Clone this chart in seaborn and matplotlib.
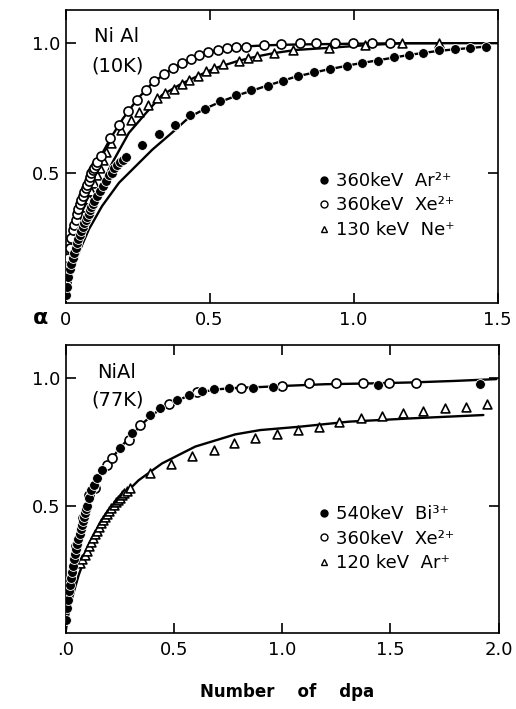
import matplotlib
matplotlib.use("Agg")
import matplotlib.pyplot as plt
from matplotlib.lines import Line2D
import seaborn as sns
import numpy as np

sns.set_style("ticks")
plt.rcParams['font.family'] = ['DejaVu Sans']
plt.rcParams['text.color'] = 'black'
plt.rcParams['axes.labelcolor'] = 'black'

# ---------------- Top panel: NiAl (10K) ----------------
top_ar_x = [0.003, 0.006, 0.01, 0.015, 0.02, 0.025, 0.03, 0.035, 0.04, 0.045, 0.05, 0.055,
            0.06, 0.065, 0.07, 0.075, 0.08, 0.085, 0.09, 0.095, 0.10, 0.11, 0.12,
            0.13, 0.14, 0.15, 0.16, 0.17, 0.18, 0.19, 0.20, 0.21,
            0.267, 0.323, 0.380, 0.432, 0.486, 0.537, 0.593, 0.645, 0.702, 0.755, 0.809,
            0.863, 0.920, 0.976, 1.030, 1.084, 1.139, 1.191, 1.243, 1.298, 1.354, 1.406, 1.461]
top_ar_y = [0.03, 0.06, 0.10, 0.13, 0.15, 0.17, 0.19, 0.21, 0.23, 0.245, 0.26, 0.275,
            0.29, 0.305, 0.32, 0.33, 0.34, 0.355, 0.37, 0.38, 0.39, 0.41, 0.43,
            0.45, 0.47, 0.49, 0.50, 0.52, 0.53, 0.54, 0.55, 0.56,
            0.609, 0.650, 0.686, 0.722, 0.747, 0.776, 0.799, 0.818, 0.836, 0.856, 0.874,
            0.887, 0.900, 0.913, 0.923, 0.933, 0.945, 0.955, 0.964, 0.972, 0.977, 0.981, 0.987]

top_xe_x = [0.003, 0.007, 0.01, 0.015, 0.02, 0.025, 0.03, 0.035, 0.04, 0.045, 0.05, 0.055,
            0.06, 0.065, 0.07, 0.075, 0.08, 0.085, 0.09, 0.095, 0.10, 0.105, 0.11,
            0.122, 0.154, 0.186, 0.217, 0.247, 0.279, 0.308, 0.343, 0.372, 0.403, 0.436,
            0.465, 0.496, 0.529, 0.561, 0.593, 0.625, 0.69, 0.749, 0.813, 0.871, 0.935,
            0.999, 1.063, 1.127]
top_xe_y = [0.08, 0.13, 0.17, 0.21, 0.25, 0.28, 0.30, 0.32, 0.34, 0.36, 0.38, 0.395,
            0.41, 0.425, 0.44, 0.455, 0.47, 0.485, 0.50, 0.51, 0.52, 0.53, 0.54,
            0.564, 0.635, 0.686, 0.737, 0.782, 0.818, 0.853, 0.881, 0.904, 0.923, 0.940,
            0.954, 0.965, 0.974, 0.981, 0.985, 0.987, 0.993, 0.995, 1.0, 1.0, 1.0,
            1.0, 1.0, 1.0]

top_ne_x = [0.01, 0.02, 0.03, 0.04, 0.05, 0.06, 0.07, 0.08, 0.09, 0.10, 0.11, 0.12, 0.13,
            0.14, 0.159, 0.191, 0.226, 0.255, 0.288, 0.317, 0.346, 0.375, 0.403, 0.430,
            0.459, 0.488, 0.517, 0.546, 0.601, 0.635, 0.665, 0.725, 0.790, 0.914, 1.040,
            1.168, 1.296]
top_ne_y = [0.14, 0.19, 0.23, 0.27, 0.31, 0.34, 0.37, 0.40, 0.43, 0.46, 0.49, 0.52, 0.55,
            0.58, 0.615, 0.667, 0.705, 0.733, 0.763, 0.788, 0.808, 0.823, 0.842, 0.859,
            0.874, 0.891, 0.904, 0.919, 0.932, 0.942, 0.949, 0.962, 0.974, 0.981, 0.993,
            1.0, 1.002]

# fitted curves
top_fit_xe_x = [0.0, 0.005, 0.02, 0.05, 0.08, 0.12, 0.16, 0.20, 0.25, 0.30, 0.35, 0.40,
                0.45, 0.50, 0.55, 0.60, 0.70, 0.80, 1.00, 1.20, 1.50]
top_fit_xe_y = [0.0, 0.10, 0.22, 0.37, 0.47, 0.56, 0.64, 0.71, 0.785, 0.845, 0.886, 0.92,
                0.947, 0.966, 0.979, 0.986, 0.992, 0.995, 0.998, 1.0, 1.0]
top_fit_ne_x = [0.0, 0.011, 0.03, 0.06, 0.104, 0.163, 0.22, 0.279, 0.335, 0.40, 0.46, 0.52,
                0.60, 0.665, 0.725, 0.80, 0.90, 1.04, 1.17, 1.30]
top_fit_ne_y = [0.0, 0.077, 0.17, 0.29, 0.41, 0.54, 0.654, 0.73, 0.80, 0.842, 0.874, 0.904,
                0.932, 0.949, 0.962, 0.974, 0.981, 0.992, 1.0, 1.0]
top_fit_ar_x = [0.0, 0.023, 0.046, 0.081, 0.127, 0.186, 0.244, 0.302, 0.37, 0.43, 0.49,
                0.54, 0.60, 0.70, 0.80, 0.90, 1.00, 1.10, 1.20, 1.30, 1.40, 1.46]
top_fit_ar_y = [0.0, 0.115, 0.192, 0.282, 0.372, 0.462, 0.526, 0.59, 0.655, 0.715, 0.75,
                0.775, 0.80, 0.836, 0.871, 0.896, 0.918, 0.937, 0.956, 0.971, 0.981, 0.987]

top_labels = ["360keV  Ar²⁺", "360keV  Xe²⁺", "130 keV  Ne⁺"]
top_xticks = [0, 0.5, 1.0, 1.5]
top_xticklabels = ["0", "0.5", "1.0", "1.5"]

# ---------------- Bottom panel: NiAl (77K) ----------------
bot_bi_x = [0.003, 0.007, 0.01, 0.015, 0.02, 0.025, 0.03, 0.035, 0.04, 0.045, 0.05, 0.055,
            0.06, 0.065, 0.07, 0.075, 0.08, 0.085, 0.09, 0.095, 0.10, 0.11, 0.12,
            0.13, 0.146, 0.17, 0.253, 0.307, 0.392, 0.438, 0.515, 0.569, 0.63, 0.684,
            0.754, 0.864, 0.959, 1.444, 1.914]
bot_bi_y = [0.05, 0.10, 0.13, 0.165, 0.19, 0.215, 0.24, 0.265, 0.29, 0.31, 0.33, 0.35,
            0.37, 0.39, 0.41, 0.425, 0.44, 0.455, 0.47, 0.485, 0.50, 0.53, 0.56,
            0.58, 0.607, 0.64, 0.725, 0.784, 0.856, 0.882, 0.915, 0.934, 0.95, 0.958,
            0.963, 0.964, 0.967, 0.974, 0.978]

bot_xe_x = [0.02, 0.05, 0.08, 0.11, 0.138, 0.192, 0.215, 0.292, 0.346, 0.476, 0.607, 0.81,
            0.998, 1.126, 1.249, 1.375, 1.495, 1.621]
bot_xe_y = [0.20, 0.34, 0.45, 0.54, 0.568, 0.66, 0.686, 0.758, 0.817, 0.898, 0.947, 0.964,
            0.970, 0.98, 0.98, 0.98, 0.983, 0.983]

bot_ar_x = [0.068, 0.078, 0.088, 0.097, 0.107, 0.117, 0.127, 0.136, 0.145, 0.155, 0.165,
            0.175, 0.184, 0.193, 0.202, 0.212, 0.222, 0.232, 0.242, 0.251, 0.261, 0.272,
            0.284, 0.299, 0.392, 0.489, 0.584, 0.684, 0.780, 0.876, 0.976, 1.075, 1.170,
            1.264, 1.367, 1.464, 1.560, 1.652, 1.752, 1.852, 1.945]
bot_ar_y = [0.274, 0.29, 0.307, 0.323, 0.340, 0.356, 0.372, 0.387, 0.402, 0.417, 0.431,
            0.444, 0.457, 0.469, 0.481, 0.492, 0.503, 0.513, 0.522, 0.531, 0.540, 0.549,
            0.558, 0.568, 0.627, 0.664, 0.696, 0.719, 0.745, 0.764, 0.781, 0.797, 0.810,
            0.830, 0.843, 0.852, 0.865, 0.872, 0.882, 0.889, 0.899]

bot_fit_top_x = [0.0, 0.01, 0.03, 0.06, 0.10, 0.15, 0.20, 0.25, 0.30, 0.35, 0.40, 0.45,
                 0.50, 0.60, 0.70, 0.80, 0.90, 1.00, 1.20, 1.40, 1.60, 1.80, 1.99]
bot_fit_top_y = [0.0, 0.13, 0.24, 0.37, 0.50, 0.61, 0.67, 0.725, 0.772, 0.818, 0.856, 0.885,
                 0.908, 0.942, 0.957, 0.963, 0.966, 0.97, 0.977, 0.98, 0.984, 0.99, 0.997]
bot_fit_low_x = [0.0, 0.01, 0.03, 0.061, 0.107, 0.169, 0.245, 0.338, 0.446, 0.599, 0.784,
                 0.90, 1.08, 1.31, 1.60, 1.93]
bot_fit_low_y = [0.0, 0.06, 0.137, 0.228, 0.333, 0.437, 0.522, 0.60, 0.666, 0.732, 0.78,
                 0.797, 0.81, 0.83, 0.843, 0.856]

bot_labels = ["540keV  Bi³⁺", "360keV  Xe²⁺", "120 keV  Ar⁺"]
bot_xticks = [0, 0.5, 1.0, 1.5, 2.0]
bot_xticklabels = [".0", "0.5", "1.0", "1.5", "2.0"]

yticks = [0.5, 1.0]
yticklabels = ["0.5", "1.0"]

# ---------------- Figure ----------------
W, H = 516, 709
fig = plt.figure(figsize=(W / 100, H / 100), dpi=100)

def frac_box(l, t, r, b):
    return [l / W, 1 - b / H, (r - l) / W, (b - t) / H]

ax1 = fig.add_axes(frac_box(65.5, 10, 497.5, 302.5))
ax2 = fig.add_axes(frac_box(65.5, 345, 498.5, 633))

FS = 13
MS = 50
LW = 1.7

def fit(ax, x, y):
    sns.lineplot(x=x, y=y, ax=ax, color="black", lw=LW, sort=False,
                 estimator=None, zorder=2)

def filled(ax, x, y):
    sns.scatterplot(x=x, y=y, ax=ax, marker="o", s=MS, color="black",
                    edgecolor="white", linewidth=0.6, zorder=4)

def opencirc(ax, x, y):
    sns.scatterplot(x=x, y=y, ax=ax, marker="o", s=MS * 0.85, facecolor="white",
                    edgecolor="black", linewidth=1.2, zorder=3)

def tri(ax, x, y):
    sns.scatterplot(x=x, y=y, ax=ax, marker="^", s=MS * 0.8, facecolor="white",
                    edgecolor="black", linewidth=1.2, zorder=3)

# top panel
fit(ax1, top_fit_xe_x, top_fit_xe_y)
fit(ax1, top_fit_ne_x, top_fit_ne_y)
fit(ax1, top_fit_ar_x, top_fit_ar_y)
tri(ax1, top_ne_x, top_ne_y)
opencirc(ax1, top_xe_x, top_xe_y)
filled(ax1, top_ar_x, top_ar_y)

# bottom panel
fit(ax2, bot_fit_top_x, bot_fit_top_y)
fit(ax2, bot_fit_low_x, bot_fit_low_y)
tri(ax2, bot_ar_x, bot_ar_y)
opencirc(ax2, bot_xe_x, bot_xe_y)
filled(ax2, bot_bi_x, bot_bi_y)

for ax, xt, xtl, xmax, ymax in [(ax1, top_xticks, top_xticklabels, 1.5, 1.128),
                                (ax2, bot_xticks, bot_xticklabels, 2.0, 1.131)]:
    ax.set_xlim(0, xmax)
    ax.set_ylim(0, ymax)
    ax.set_xticks(xt)
    ax.set_xticklabels(xtl)
    ax.set_yticks(yticks)
    ax.set_yticklabels(yticklabels)
    ax.tick_params(direction="in", length=7, width=1.2, top=True, right=True,
                   labelsize=FS, colors="black")
    ax.tick_params(axis="x", pad=6)
    ax.tick_params(axis="y", pad=4)
    for sp in ax.spines.values():
        sp.set_visible(True)
        sp.set_linewidth(1.2)
        sp.set_color("black")
    ax.set_xlabel("")
    ax.set_ylabel("")
    ax.set_facecolor("white")

def legend(ax, labels, anchor):
    handles = [
        Line2D([], [], ls="", marker="o", color="black", markersize=5),
        Line2D([], [], ls="", marker="o", markerfacecolor="white",
               markeredgecolor="black", markersize=5, markeredgewidth=1.0),
        Line2D([], [], ls="", marker="^", markerfacecolor="white",
               markeredgecolor="black", markersize=5, markeredgewidth=1.0),
    ]
    leg = ax.legend(handles, labels, loc="upper left", bbox_to_anchor=anchor,
                    bbox_transform=fig.transFigure, frameon=False, fontsize=FS,
                    handlelength=0.5, handletextpad=0.45, labelspacing=0.36,
                    borderpad=0, borderaxespad=0)
    for t in leg.get_texts():
        t.set_color("black")

legend(ax1, top_labels, (319 / W, 1 - 172 / H))
legend(ax2, bot_labels, (319 / W, 1 - 505 / H))

fig.text(117 / W, 1 - 37 / H, "Ni Al", fontsize=14, ha="center", va="center")
fig.text(118 / W, 1 - 66 / H, "(10K)", fontsize=14, ha="center", va="center")
fig.text(117 / W, 1 - 372 / H, "NiAl", fontsize=14, ha="center", va="center")
fig.text(118 / W, 1 - 400 / H, "(77K)", fontsize=14, ha="center", va="center")
fig.text(40 / W, 1 - 318 / H, "α", fontsize=16, ha="center", va="center",
         fontweight="bold")
fig.text(287 / W, 1 - 692 / H, "Number    of    dpa", fontsize=12, ha="center",
         va="center", fontweight="bold")

fig.savefig("out.png", dpi=100, facecolor="white")
